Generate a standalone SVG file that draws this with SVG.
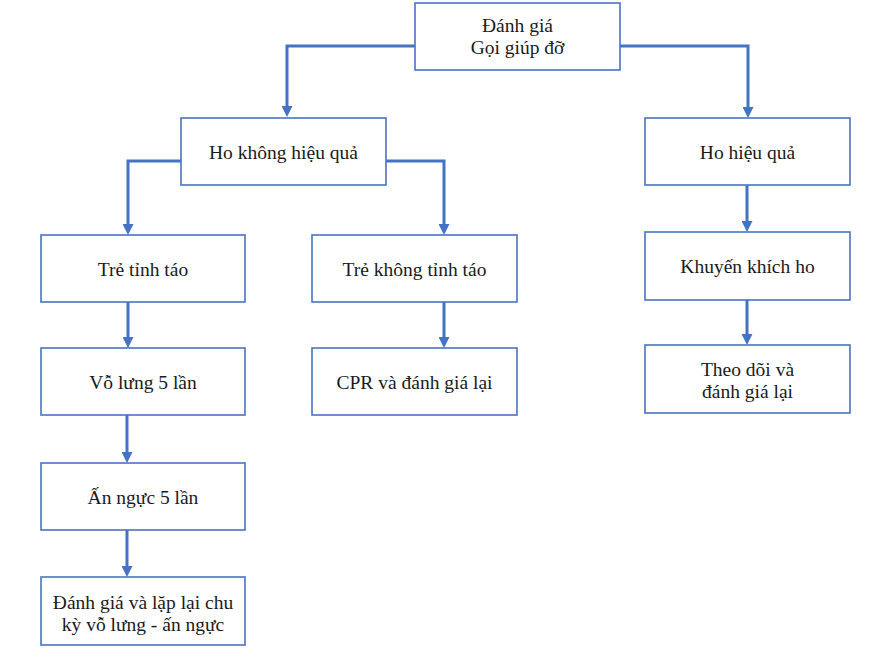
<svg xmlns="http://www.w3.org/2000/svg" width="889" height="653" viewBox="0 0 889 653">
<defs>
<style>
.box{fill:#ffffff;stroke:#4A74C2;stroke-width:1.6}
.lbl{font-size:19.5px;fill:#1a1a1a;text-anchor:middle}
.conn{fill:none;stroke:#4472C4;stroke-width:3}
</style>
<marker id="ah" markerUnits="userSpaceOnUse" markerWidth="11" markerHeight="11" refX="0" refY="5" orient="auto" viewBox="0 0 10 10">
<path d="M0,0 L10,5 L0,10 z" fill="#4472C4"/>
</marker>
</defs>
<rect width="889" height="653" fill="#ffffff"/>
<g id="connectors">
<path class="conn" d="M415,46 H287 V106" marker-end="url(#ah)"/>
<path class="conn" d="M620,46 H748 V107" marker-end="url(#ah)"/>
<path class="conn" d="M181,161 H128 V224" marker-end="url(#ah)"/>
<path class="conn" d="M386,161 H444 V224" marker-end="url(#ah)"/>
<path class="conn" d="M128,302 V337" marker-end="url(#ah)"/>
<path class="conn" d="M444,302 V337" marker-end="url(#ah)"/>
<path class="conn" d="M747,185 V221" marker-end="url(#ah)"/>
<path class="conn" d="M747,300 V334" marker-end="url(#ah)"/>
<path class="conn" d="M127,415 V452" marker-end="url(#ah)"/>
<path class="conn" d="M127,530 V566" marker-end="url(#ah)"/>
</g>
<g font-family="'Liberation Serif', 'Times New Roman', serif">
<g id="n-danhgia">
<rect class="box" x="415" y="3" width="205" height="67"/>
<text class="lbl" x="517.5" y="32">Đánh giá</text>
<text class="lbl" x="517.5" y="54">Gọi giúp đỡ</text>
</g>
<g id="n-hokhonghieuqua">
<rect class="box" x="181" y="118" width="205" height="67"/>
<text class="lbl" x="283.5" y="159">Ho không hiệu quả</text>
</g>
<g id="n-hohieuqua">
<rect class="box" x="645" y="118" width="205" height="67"/>
<text class="lbl" x="747.5" y="159">Ho hiệu quả</text>
</g>
<g id="n-tretinhtao">
<rect class="box" x="41" y="235" width="204" height="67"/>
<text class="lbl" x="143" y="276">Trẻ tỉnh táo</text>
</g>
<g id="n-trekhongtinhtao">
<rect class="box" x="312" y="235" width="205" height="67"/>
<text class="lbl" x="414.5" y="276">Trẻ không tỉnh táo</text>
</g>
<g id="n-khuyenkhichho">
<rect class="box" x="645" y="232" width="205" height="68"/>
<text class="lbl" x="747.5" y="273">Khuyến khích ho</text>
</g>
<g id="n-volung">
<rect class="box" x="41" y="348" width="204" height="67"/>
<text class="lbl" x="143" y="389">Vỗ lưng 5 lần</text>
</g>
<g id="n-cpr">
<rect class="box" x="312" y="348" width="205" height="67"/>
<text class="lbl" x="414.5" y="389">CPR và đánh giá lại</text>
</g>
<g id="n-theodoi">
<rect class="box" x="645" y="345" width="205" height="68"/>
<text class="lbl" x="747.5" y="376">Theo dõi và</text>
<text class="lbl" x="747.5" y="398">đánh giá lại</text>
</g>
<g id="n-annguc">
<rect class="box" x="41" y="463" width="204" height="67"/>
<text class="lbl" x="143" y="504">Ấn ngực 5 lần</text>
</g>
<g id="n-danhgialap">
<rect class="box" x="41" y="577" width="204" height="68"/>
<text class="lbl" x="143" y="609">Đánh giá và lặp lại chu</text>
<text class="lbl" x="143" y="631">kỳ vỗ lưng - ấn ngực</text>
</g>
</g>
</svg>
